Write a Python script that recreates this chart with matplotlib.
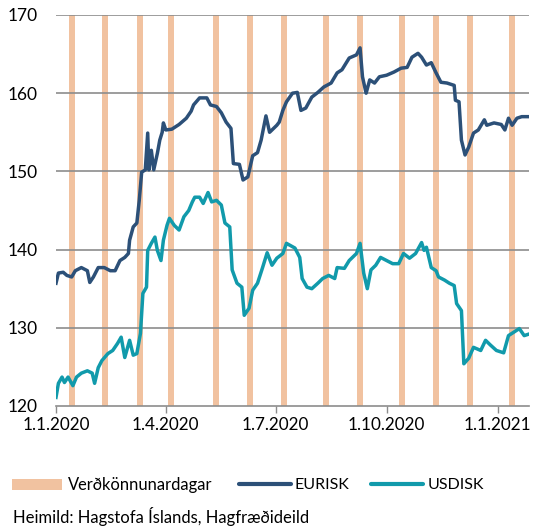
import matplotlib
matplotlib.use("Agg")
import matplotlib.pyplot as plt
from matplotlib.patches import Rectangle
from matplotlib.lines import Line2D
import pandas as pd

plt.rcParams['font.family'] = ['Lato', 'DejaVu Sans']

START = pd.Timestamp('2020-01-01')

# EURISK: (days since 1.1.2020, value)
eur_days = [0, 2, 6, 9, 13, 16, 21, 26, 28, 31, 35, 40, 45, 49, 53, 57, 60, 61, 64, 67, 69, 71, 74, 76, 77,
            79, 81, 84, 86, 88, 89, 91, 96, 102, 108, 112, 114, 119, 125, 128, 133, 137, 141, 145, 147,
            152, 155, 159, 163, 167, 170, 174, 177, 183, 185, 188, 191, 196, 200, 203, 207, 212, 217, 222,
            228, 233, 237, 243, 249, 252, 254, 257, 260, 264, 268, 274, 280, 286, 291, 295, 300, 303, 307,
            311, 315, 319, 324, 330, 331, 334, 336, 339, 342, 346, 350, 355, 357, 363, 369, 372, 375, 378,
            382, 386, 392]
eur_vals = [135.7, 137.0, 137.1, 136.7, 136.5, 137.3, 137.7, 137.3, 135.8, 136.5, 137.7, 137.7, 137.3, 137.3,
            138.6, 139.0, 139.5, 141.2, 142.9, 143.4, 146.3, 149.9, 150.2, 154.9, 150.2, 152.7, 150.2, 152.3,
            154.0, 155.0, 156.2, 155.3, 155.4, 156.0, 156.8, 157.7, 158.5, 159.4, 159.4, 158.5, 158.3, 157.5,
            156.3, 155.5, 151.0, 150.9, 148.9, 149.3, 152.0, 152.4, 154.0, 157.1, 155.0, 155.9, 156.3, 157.8,
            158.9, 160.0, 160.1, 157.8, 158.1, 159.5, 160.1, 160.8, 161.3, 162.6, 163.0, 164.5, 164.9, 165.8,
            162.1, 160.0, 161.7, 161.3, 162.1, 162.3, 162.7, 163.2, 163.3, 164.6, 165.1, 164.6, 163.6, 163.9,
            162.6, 161.4, 161.3, 161.0, 159.1, 158.9, 154.0, 152.1, 153.1, 154.9, 155.3, 156.6, 155.9, 156.2,
            156.0, 155.3, 156.8, 155.9, 156.8, 157.0, 157.0]

# USDISK: (days since 1.1.2020, value)
usd_days = [0, 2, 5, 7, 10, 14, 17, 21, 26, 30, 32, 35, 38, 43, 47, 51, 54, 57, 61, 64, 67, 70, 72, 75, 76,
            79, 82, 84, 87, 89, 92, 94, 98, 102, 106, 110, 113, 115, 119, 122, 126, 129, 133, 137, 140, 144,
            146, 150, 154, 156, 160, 163, 167, 171, 175, 179, 183, 188, 191, 198, 202, 204, 208, 212, 217,
            221, 226, 231, 233, 239, 243, 249, 252, 255, 258, 261, 265, 269, 274, 279, 284, 288, 293, 298,
            303, 305, 307, 311, 315, 317, 322, 326, 330, 332, 336, 338, 342, 346, 352, 356, 360, 365, 371,
            375, 379, 384, 388, 392]
usd_vals = [121.1, 122.9, 123.7, 123.0, 123.7, 122.6, 123.7, 124.2, 124.5, 124.2, 122.9, 124.9, 125.8, 126.7,
            127.1, 128.0, 128.8, 126.2, 128.4, 126.5, 126.7, 129.3, 134.4, 135.2, 139.9, 140.8, 141.6, 139.9,
            138.6, 141.2, 143.1, 144.0, 143.1, 142.5, 144.2, 145.0, 146.1, 146.7, 146.7, 145.9, 147.3, 146.1,
            146.3, 145.7, 143.4, 142.9, 137.4, 135.7, 135.2, 131.6, 132.5, 134.8, 135.7, 137.6, 139.6, 138.0,
            138.9, 139.5, 140.8, 140.2, 139.0, 136.3, 135.2, 135.0, 135.7, 136.3, 136.7, 136.3, 137.7, 137.6,
            138.6, 139.5, 140.8, 137.0, 135.0, 137.4, 138.0, 139.0, 138.6, 138.2, 138.2, 139.5, 138.9, 139.5,
            140.9, 139.9, 140.3, 137.7, 137.3, 136.5, 136.1, 135.7, 135.4, 133.1, 132.2, 125.4, 126.1, 127.5,
            127.1, 128.4, 127.8, 127.1, 126.8, 129.0, 129.4, 129.9, 129.0, 129.2]

# Price survey days (Verðkönnunardagar)
survey_dates = ['2020-01-14', '2020-02-11', '2020-03-11', '2020-04-05', '2020-05-13', '2020-06-10',
                '2020-07-08', '2020-08-12', '2020-09-09', '2020-10-14', '2020-11-11', '2020-12-09',
                '2021-01-13']

tick_dates = ['2020-01-01', '2020-04-01', '2020-07-01', '2020-10-01', '2021-01-01']
tick_labels = ['1.1.2020', '1.4.2020', '1.7.2020', '1.10.2020', '1.1.2021']

legend_labels = ['Verðkönnunardagar', 'EURISK', 'USDISK']
source_text = 'Heimild: Hagstofa Íslands, Hagfræðideild'

C_BAR = '#F1C2A0'
C_EUR = '#2C5078'
C_USD = '#119AAB'

eur_x = [START + pd.Timedelta(days=d) for d in eur_days]
usd_x = [START + pd.Timedelta(days=d) for d in usd_days]

W, H = 533, 529
fig = plt.figure(figsize=(W / 100, H / 100), dpi=100)
ax = fig.add_axes([56 / W, 1 - 406 / H, (529 - 56) / W, (406 - 15) / H])

for d in survey_dates:
    c = pd.Timestamp(d)
    ax.axvspan(c - pd.Timedelta(hours=60), c + pd.Timedelta(hours=60), color=C_BAR, lw=0, zorder=1)

for yv in [130, 140, 150, 160, 170]:
    ax.axhline(yv, color='#8C8C8C', lw=1.2, zorder=2)

ax.plot(eur_x, eur_vals, color=C_EUR, lw=2.5, zorder=3, solid_joinstyle='round')
ax.plot(usd_x, usd_vals, color=C_USD, lw=2.5, zorder=3, solid_joinstyle='round')

ax.set_xlim(START, pd.Timestamp('2021-01-27'))
ax.set_ylim(120, 170)
ax.set_yticks([120, 130, 140, 150, 160, 170])
ax.tick_params(axis='y', length=0, labelsize=12.5, pad=13, colors='#000000')
ax.set_xticks([pd.Timestamp(t) for t in tick_dates])
ax.set_xticklabels(tick_labels)
ax.tick_params(axis='x', length=5, width=1, color='#8C8C8C', labelsize=12.3, pad=3)

for s in ['top', 'right', 'left']:
    ax.spines[s].set_visible(False)
ax.spines['bottom'].set_color('#8C8C8C')
ax.spines['bottom'].set_linewidth(1.2)

# Manual legend (figure pixel layout)
def fx(px):
    return px / W

def fy(py):
    return 1 - py / H

ly = 485
fig.add_artist(Rectangle((fx(12), fy(490)), fx(62) - fx(12), (490 - 479) / H,
                         transform=fig.transFigure, facecolor=C_BAR, edgecolor='none'))
fig.text(fx(68), fy(ly), legend_labels[0], fontsize=11.9, va='center', ha='left')
fig.add_artist(Line2D([fx(239), fx(291)], [fy(484), fy(484)], transform=fig.transFigure,
                      color=C_EUR, lw=3, solid_capstyle='round'))
fig.text(fx(295), fy(ly), legend_labels[1], fontsize=11.5, va='center', ha='left')
fig.add_artist(Line2D([fx(371), fx(423)], [fy(484), fy(484)], transform=fig.transFigure,
                      color=C_USD, lw=3, solid_capstyle='round'))
fig.text(fx(428), fy(ly), legend_labels[2], fontsize=11.5, va='center', ha='left')

fig.text(fx(13), fy(517), source_text, fontsize=12, va='center', ha='left')

fig.savefig('out.png', dpi=100)
